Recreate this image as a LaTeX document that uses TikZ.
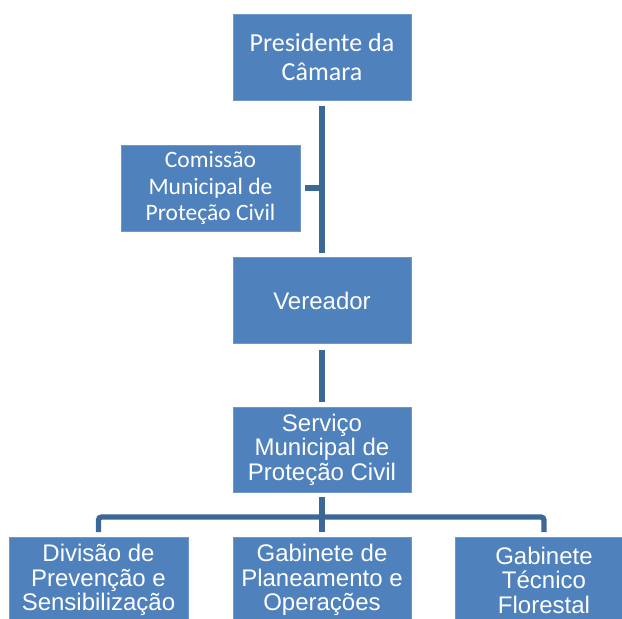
\documentclass[tikz,border=0pt]{standalone}
\usepackage{fontspec}
\setmainfont{Liberation Sans}
\newfontfamily\calfont{Carlito}
\usetikzlibrary{calc}
\definecolor{boxblue}{RGB}{79,129,189}
\definecolor{boxedge}{RGB}{110,152,204}
\definecolor{linkblue}{RGB}{61,103,151}
\tikzset{
  orgbox/.style={rectangle, fill=boxblue, draw=boxedge, line width=0.6pt,
    minimum width=178pt, minimum height=86pt, inner sep=0pt, outer sep=0pt,
    align=center, text=white, font=\fontsize{24}{24.5}\selectfont},
  calbox/.style={orgbox, font=\calfont\fontsize{26}{29}\selectfont},
  calsmall/.style={orgbox, font=\calfont\fontsize{23.5}{26.5}\selectfont},
  conn/.style={draw=linkblue, line width=5.3pt}
}
\begin{document}
\begin{tikzpicture}[x=1pt,y=-1pt]
\useasboundingbox (0,0) rectangle (622,619);
\clip (0,0) rectangle (622,619);
\node[calbox] (pres) at (322,57) {Presidente da\\Câmara};
\node[calsmall, minimum width=179pt] (com) at (210.5,188) {Comissão\\Municipal de\\Proteção Civil};
\node[orgbox] (ver) at (322,300.5) {Vereador};
\node[orgbox, minimum height=85pt] (serv) at (322,449.5) {Serviço\\Municipal de\\Proteção Civil};
\node[orgbox, minimum width=179pt] (div) at (98.5,580) {Divisão de\\Prevenção e\\Sensibilização};
\node[orgbox] (plan) at (322,580) {Gabinete de\\Planeamento e\\Operações};
\node[orgbox] (tec) at (544,580) {Gabinete\\Técnico\\Florestal};
\coordinate (bus) at (322,517);
% connectors
\draw[conn, shorten <=6pt, shorten >=5pt] (pres) -- (ver);
\draw[conn, shorten <=5pt] (com.east) -- (com.east -| pres.south);
\draw[conn, shorten <=6pt, shorten >=5pt] (ver) -- (serv);
\draw[conn, shorten <=5pt] (serv) -- (bus);
\draw[conn, rounded corners=3pt, shorten >=5pt] (bus) -| (div);
\draw[conn, rounded corners=3pt, shorten >=5pt] (bus) -| (tec);
\draw[conn, shorten >=5pt] (bus) -- (plan);
\end{tikzpicture}
\end{document}
